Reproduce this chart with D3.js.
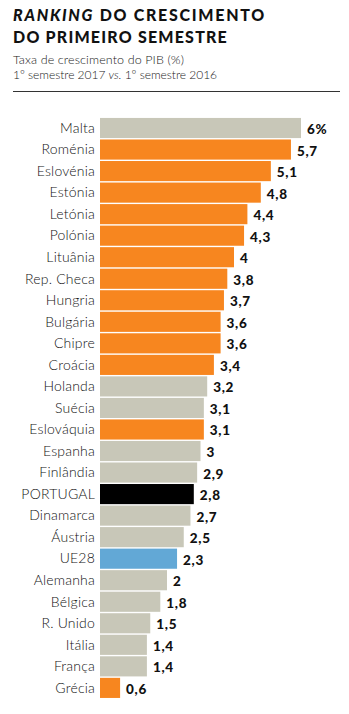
<!DOCTYPE html>
<html>
<head>
<meta charset="utf-8">
<script src="https://cdn.jsdelivr.net/npm/d3@7"></script>
<style>
  html, body { margin: 0; padding: 0; background: #fff; }
  svg { display: block; }
</style>
</head>
<body>
<svg id="chart" width="349" height="714"></svg>
<script>
// Crescimento do PIB, 1º semestre 2017 vs. 1º semestre 2016 (%)
const countries = ["Malta","Roménia","Eslovénia","Estónia","Letónia","Polónia","Lituânia","Rep. Checa","Hungria","Bulgária","Chipre","Croácia","Holanda","Suécia","Eslováquia","Espanha","Finlândia","PORTUGAL","Dinamarca","Áustria","UE28","Alemanha","Bélgica","R. Unido","Itália","França","Grécia"];
const growth = [6, 5.7, 5.1, 4.8, 4.4, 4.3, 4, 3.8, 3.7, 3.6, 3.6, 3.4, 3.2, 3.1, 3.1, 3, 2.9, 2.8, 2.7, 2.5, 2.3, 2, 1.8, 1.5, 1.4, 1.4, 0.6];
const valueLabels = ["6%","5,7","5,1","4,8","4,4","4,3","4","3,8","3,7","3,6","3,6","3,4","3,2","3,1","3,1","3","2,9","2,8","2,7","2,5","2,3","2","1,8","1,5","1,4","1,4","0,6"];
// grupo: n = novos estados-membros (laranja), o = outros, pt = Portugal, ue = média UE28
const group = ["o","n","n","n","n","n","n","n","n","n","n","n","o","o","n","o","o","pt","o","o","ue","o","o","o","o","o","n"];

const colors = { n: "#f7861f", o: "#c8c7b8", pt: "#000000", ue: "#62a8d6" };

const svg = d3.select("#chart");

// spread a text line's letters so it spans the given width
function spreadTo(sel, width) {
  const node = sel.node();
  const n = node.textContent.length;
  const w = node.getComputedTextLength();
  sel.style("letter-spacing", ((width - w) / n) + "px");
}

// Título
const title = svg.append("text")
  .attr("x", 13).attr("y", 21)
  .style("font-family", "Lato").style("font-weight", 900)
  .style("font-size", "16px")
  .attr("fill", "#111");
title.append("tspan").style("font-style", "italic").text("RANKING");
title.append("tspan").text(" DO CRESCIMENTO");
spreadTo(title, 253);
const title2 = svg.append("text")
  .attr("x", 13).attr("y", 42.5)
  .style("font-family", "Lato").style("font-weight", 900)
  .style("font-size", "16px")
  .attr("fill", "#111")
  .text("DO PRIMEIRO SEMESTRE");
spreadTo(title2, 215);

const sub1 = svg.append("text")
  .attr("x", 13).attr("y", 64)
  .style("font-family", "Lato").style("font-weight", 300)
  .style("font-size", "12.5px").attr("fill", "#222")
  .text("Taxa de crescimento do PIB (%)");
spreadTo(sub1, 171);
const sub = svg.append("text")
  .attr("x", 13).attr("y", 79)
  .style("font-family", "Lato").style("font-weight", 300)
  .style("font-size", "12px").attr("fill", "#222");
sub.append("tspan").text("1º semestre 2017 ");
sub.append("tspan").style("font-style", "italic").text("vs.");
sub.append("tspan").text(" 1º semestre 2016");
spreadTo(sub, 204);

svg.append("line")
  .attr("x1", 13).attr("x2", 340).attr("y1", 91.5).attr("y2", 91.5)
  .attr("stroke", "#333").attr("stroke-width", 1);

// Escalas
const x = d3.scaleLinear().domain([0, 6]).range([100, 301]);
const y = d3.scaleBand().domain(countries).range([117.3, 698.6]).paddingInner(0.065).paddingOuter(0.03);

const rows = svg.append("g").selectAll("g").data(countries).join("g");

rows.append("rect")
  .attr("x", x(0))
  .attr("y", d => y(d))
  .attr("height", y.bandwidth())
  .attr("width", (d, i) => x(growth[i]) - x(0))
  .attr("fill", (d, i) => colors[group[i]]);

rows.append("text")
  .attr("x", 95)
  .attr("y", d => y(d) + y.bandwidth() / 2 + 4.8)
  .attr("text-anchor", "end")
  .style("font-family", "Lato").style("font-weight", 300)
  .style("font-size", "14px").style("letter-spacing", "0.2px").attr("fill", "#111")
  .text(d => d);

rows.append("text")
  .attr("x", (d, i) => x(growth[i]) + 6)
  .attr("y", d => y(d) + y.bandwidth() / 2 + 6)
  .style("font-family", "Lato").style("font-weight", 900)
  .style("font-size", "13.5px").style("letter-spacing", "0.7px").attr("fill", "#111")
  .text((d, i) => valueLabels[i]);
</script>
</body>
</html>
